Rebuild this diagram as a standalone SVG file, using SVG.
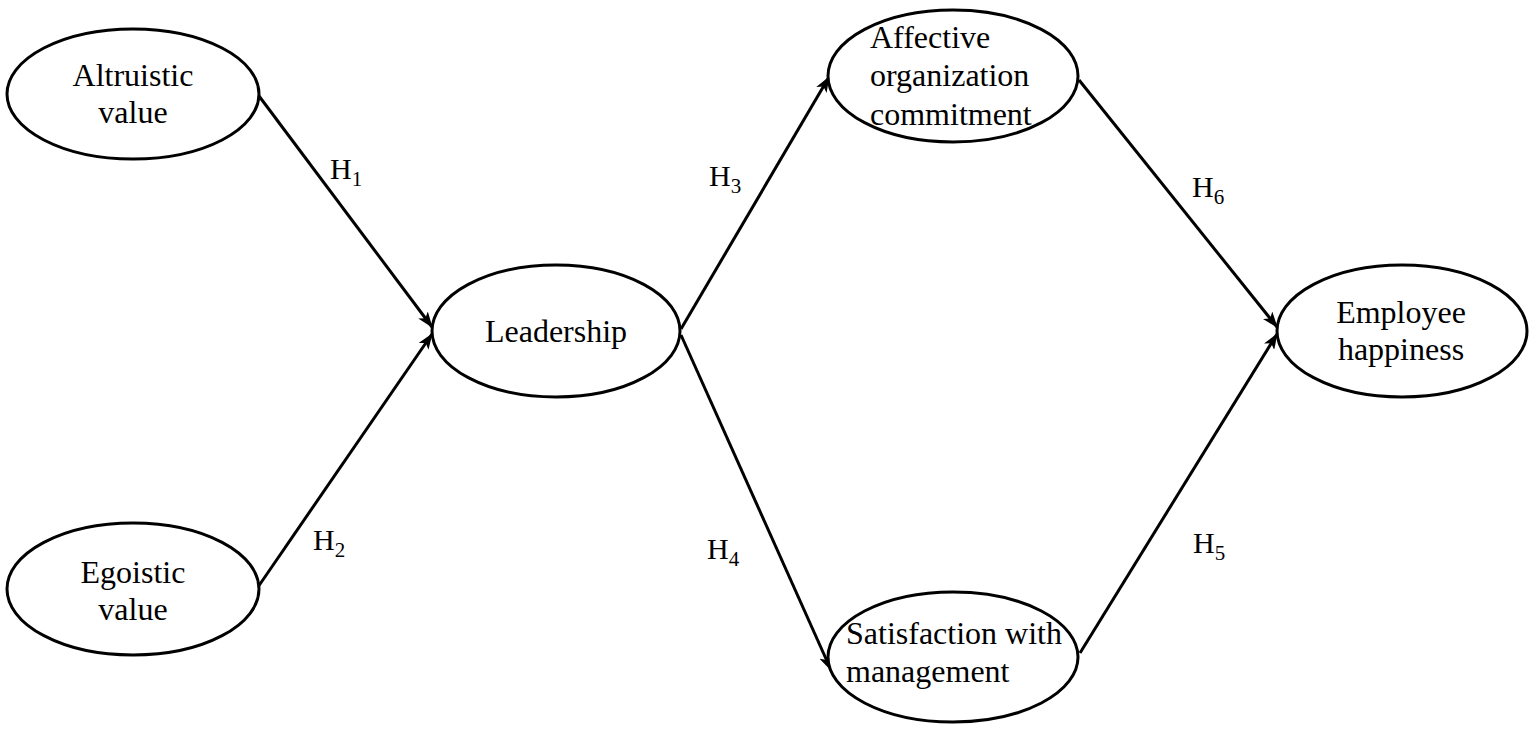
<svg xmlns="http://www.w3.org/2000/svg" width="1535" height="731" viewBox="0 0 1535 731">
<style>
.node ellipse{fill:#fff;stroke:#000;stroke-width:3}
.node text{font-family:"Liberation Serif","Times New Roman",serif;font-size:32px;fill:#000}
.c{text-anchor:middle}
.edges line{stroke:#000;stroke-width:3;fill:none}
.lbl{font-family:"Liberation Serif","Times New Roman",serif;font-size:30px;fill:#000}
.sub{font-size:21px}
</style>
<defs>
<marker id="arr" viewBox="0 0 16 12" refX="15" refY="6" markerWidth="16" markerHeight="12" markerUnits="userSpaceOnUse" orient="auto">
<path d="M0,0 L16,6 L0,12 L4,6 z" fill="#000"/>
</marker>
</defs>
<rect width="1535" height="731" fill="#fff"/>
<g id="connectors" class="edges">
<line x1="259" y1="96" x2="432" y2="327" marker-end="url(#arr)"/>
<line x1="258" y1="587" x2="432" y2="334" marker-end="url(#arr)"/>
<line x1="681" y1="329" x2="829" y2="77" marker-end="url(#arr)"/>
<line x1="681" y1="335" x2="831" y2="670" marker-end="url(#arr)"/>
<line x1="1079" y1="80" x2="1277" y2="327" marker-end="url(#arr)"/>
<line x1="1080" y1="653" x2="1277" y2="334" marker-end="url(#arr)"/>
</g>
<g id="labels">
<text class="lbl" x="330" y="179">H<tspan class="sub" dy="7">1</tspan></text>
<text class="lbl" x="313" y="550">H<tspan class="sub" dy="7">2</tspan></text>
<text class="lbl" x="709" y="186">H<tspan class="sub" dy="7">3</tspan></text>
<text class="lbl" x="707" y="559">H<tspan class="sub" dy="7">4</tspan></text>
<text class="lbl" x="1193" y="553">H<tspan class="sub" dy="7">5</tspan></text>
<text class="lbl" x="1192" y="197">H<tspan class="sub" dy="7">6</tspan></text>
</g>
<g id="altruistic" class="node">
<ellipse cx="133" cy="94" rx="126" ry="65"/>
<text class="c" x="133" y="86">Altruistic</text>
<text class="c" x="133" y="123">value</text>
</g>
<g id="egoistic" class="node">
<ellipse cx="133" cy="589" rx="126" ry="66"/>
<text class="c" x="133" y="583">Egoistic</text>
<text class="c" x="133" y="620">value</text>
</g>
<g id="leadership" class="node">
<ellipse cx="556" cy="331" rx="124" ry="66"/>
<text class="c" x="556" y="342">Leadership</text>
</g>
<g id="affective" class="node">
<ellipse cx="953" cy="76" rx="125" ry="66"/>
<text x="870" y="48">Affective</text>
<text x="870" y="86">organization</text>
<text x="870" y="125">commitment</text>
</g>
<g id="satisfaction" class="node">
<ellipse cx="953" cy="657" rx="125" ry="65"/>
<text x="846" y="644">Satisfaction with</text>
<text x="846" y="682">management</text>
</g>
<g id="happiness" class="node">
<ellipse cx="1402" cy="331" rx="125" ry="66"/>
<text class="c" x="1401" y="323">Employee</text>
<text class="c" x="1401" y="360">happiness</text>
</g>
</svg>
